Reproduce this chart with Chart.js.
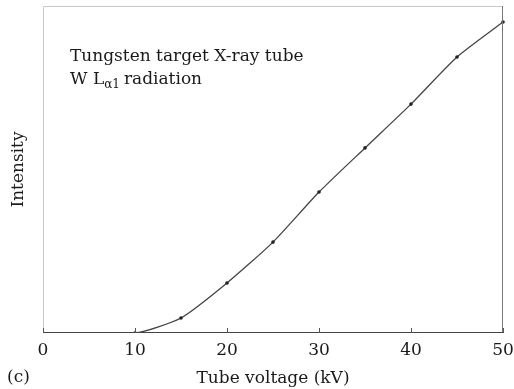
<!DOCTYPE html>
<html>
<head>
<meta charset="utf-8">
<script src="https://cdn.jsdelivr.net/npm/chart.js@4/dist/chart.umd.min.js"></script>
<style>
  html, body { margin: 0; padding: 0; background: #fff; }
  #wrap { width: 514px; height: 389px; position: relative; }
</style>
</head>
<body>
<div id="wrap"><canvas id="c" width="514" height="389"></canvas></div>
<script>
// Data (intensity in arbitrary units, 0..100 axis)
const voltages = [0, 10, 15, 20, 25, 30, 35, 40, 45, 50];
const intensity = [0, 0, 4.6, 15.3, 27.8, 43.1, 56.6, 70.0, 84.4, 95.1];
const xTicks = [0, 10, 20, 30, 40, 50];
const xTitle = 'Tube voltage (kV)';
const yTitle = 'Intensity';
const noteLine1 = 'Tungsten target X-ray tube';
const panelLabel = '(c)';

const SERIF = '"DejaVu Serif", "Liberation Serif", serif';
const FS = 17;

const framePlugin = {
  id: 'frame',
  afterDatasetsDraw(chart) {
    const { ctx, chartArea: a, scales } = chart;
    ctx.save();
    ctx.strokeStyle = '#c8c8c8';
    ctx.lineWidth = 1;
    ctx.beginPath();
    ctx.moveTo(a.left + 0.5, a.bottom);
    ctx.lineTo(a.left + 0.5, a.top + 0.5);
    ctx.lineTo(a.right, a.top + 0.5);
    ctx.stroke();
    ctx.strokeStyle = '#777';
    ctx.beginPath();
    ctx.moveTo(a.right - 0.5, a.top);
    ctx.lineTo(a.right - 0.5, a.bottom);
    ctx.stroke();
    ctx.strokeStyle = '#444';
    ctx.lineWidth = 1.2;
    ctx.beginPath();
    ctx.moveTo(a.left, a.bottom - 0.5);
    ctx.lineTo(a.right, a.bottom - 0.5);
    ctx.stroke();
    ctx.strokeStyle = '#555';
    ctx.lineWidth = 1;
    xTicks.forEach(v => {
      const px = Math.round(scales.x.getPixelForValue(v)) + 0.5;
      ctx.beginPath();
      ctx.moveTo(px, a.bottom);
      ctx.lineTo(px, a.bottom - 5);
      ctx.stroke();
    });
    ctx.restore();
  },
  afterDraw(chart) {
    const { ctx } = chart;
    ctx.save();
    ctx.fillStyle = '#1a1a1a';
    ctx.textBaseline = 'alphabetic';
    ctx.textAlign = 'left';
    ctx.font = FS + 'px ' + SERIF;
    const x0 = 70;
    ctx.fillText(noteLine1, x0, 61);
    let x = x0;
    const y2 = 84;
    ctx.fillText('W L', x, y2);
    x += ctx.measureText('W L').width;
    ctx.font = '12px ' + SERIF;
    ctx.fillText('α1', x, y2 + 4);
    x += ctx.measureText('α1').width + 4;
    ctx.font = FS + 'px ' + SERIF;
    ctx.fillText('radiation', x, y2);
    ctx.fillText(panelLabel, 7, 382);
    ctx.restore();
  }
};

new Chart(document.getElementById('c'), {
  type: 'line',
  data: {
    labels: voltages,
    datasets: [{
      data: voltages.map((v, i) => ({ x: v, y: intensity[i] })),
      borderColor: '#444',
      borderWidth: 1.3,
      backgroundColor: '#222',
      pointBackgroundColor: '#222',
      pointBorderWidth: 0,
      pointRadius: voltages.map(v => v === 0 ? 0 : 1.8),
      tension: 0.2,
      clip: { left: 0, top: 3, right: 3, bottom: 0 },
      fill: false
    }]
  },
  plugins: [framePlugin],
  options: {
    responsive: false,
    animation: false,
    devicePixelRatio: 1,
    layout: { padding: { top: 6, right: 0, left: 0, bottom: 0 } },
    plugins: { legend: { display: false }, tooltip: { enabled: false } },
    scales: {
      x: {
        type: 'linear',
        min: 0, max: 50,
        afterBuildTicks(scale) { scale.ticks = xTicks.map(v => ({ value: v })); },
        afterFit(scale) { scale.height = 56; scale.paddingRight = 11; },
        grid: { display: false, drawTicks: false },
        border: { display: false },
        ticks: { color: '#1a1a1a', font: { family: SERIF, size: FS }, padding: 7, maxRotation: 0 },
        title: { display: true, text: xTitle, color: '#1a1a1a', font: { family: SERIF, size: FS }, padding: { top: 0, bottom: 0 } }
      },
      y: {
        min: 0, max: 100,
        afterFit(scale) { scale.width = 43; },
        grid: { display: false, drawTicks: false },
        border: { display: false },
        ticks: { display: false },
        title: { display: true, text: yTitle, color: '#1a1a1a', font: { family: SERIF, size: FS }, padding: { top: 8, bottom: 0 } }
      }
    }
  }
});
</script>
</body>
</html>
